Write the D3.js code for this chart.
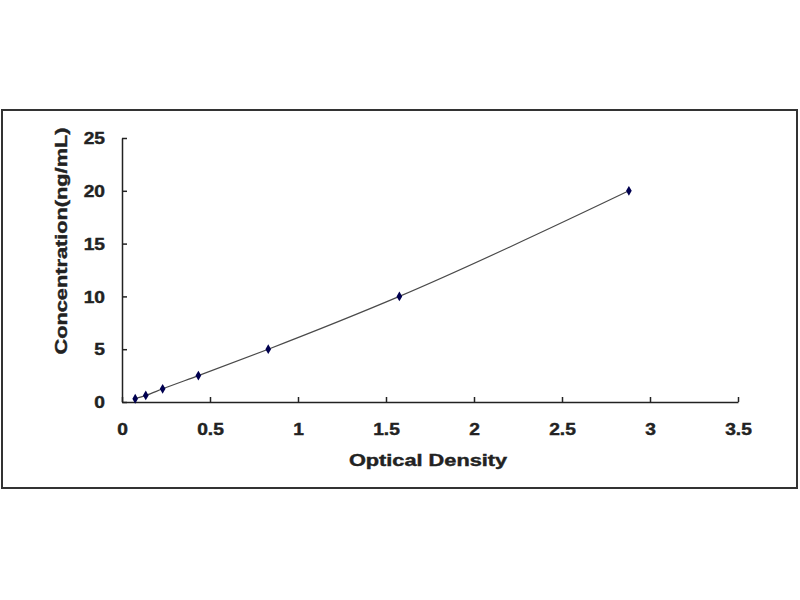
<!DOCTYPE html>
<html><head><meta charset="utf-8">
<script src="https://cdn.jsdelivr.net/npm/d3@7"></script>
<style>body{margin:0;background:#fff;}svg{display:block;}</style>
</head><body>
<svg id="c" width="800" height="600"></svg>
<script>
const od = [0.075, 0.135, 0.231, 0.434, 0.831, 1.576, 2.88];
const conc = [0.312, 0.625, 1.25, 2.5, 5, 10, 20];
const xTicks = [0, 0.5, 1, 1.5, 2, 2.5, 3, 3.5];
const yTicks = [0, 5, 10, 15, 20, 25];
const xTitle = "Optical Density";
const yTitle = "Concentration(ng/mL)";

const svg = d3.select("#c");
svg.append("rect").attr("x", 2).attr("y", 110).attr("width", 795).attr("height", 378)
  .attr("fill", "#fff").attr("stroke", "#333").attr("stroke-width", 2);

const x = d3.scaleLinear().domain([0, 3.5]).range([122, 738]);
const y = d3.scaleLinear().domain([0, 25]).range([402, 138]);
const font = "'Liberation Sans', Arial, sans-serif";

const xa = svg.append("g").attr("transform", "translate(0,402)")
  .call(d3.axisBottom(x).tickValues(xTicks).tickSizeInner(-5).tickSizeOuter(0).tickFormat(d3.format("")));
const ya = svg.append("g").attr("transform", "translate(122,0)")
  .call(d3.axisLeft(y).tickValues(yTicks).tickSizeInner(-5).tickSizeOuter(0).tickFormat(d3.format("")));
[xa, ya].forEach(g => {
  g.select(".domain").attr("stroke", "#222").attr("stroke-width", 1.5);
  g.selectAll(".tick line").attr("stroke", "#222").attr("stroke-width", 1.5);
  g.selectAll(".tick text").attr("fill", "#222").attr("stroke", "#222").attr("stroke-width", 0.4)
    .style("font-family", font).style("font-size", "16px").style("font-weight", "bold");
});
xa.selectAll(".tick text").attr("y", 0).attr("dy", 0)
  .attr("transform", "translate(0,33) scale(1.2,1)");
ya.selectAll(".tick text").attr("x", 0).attr("dy", "0.35em")
  .attr("transform", "translate(-17,0) scale(1.2,1)");

svg.append("text").attr("transform", "translate(428,466) scale(1.36,1)")
  .attr("text-anchor", "middle").style("font-family", font).style("font-size", "16px")
  .style("font-weight", "bold").attr("fill", "#222").attr("stroke", "#222").attr("stroke-width", 0.4)
  .text(xTitle);
svg.append("text").attr("transform", "translate(67,241) rotate(-90) scale(1.36,1)")
  .attr("text-anchor", "middle").style("font-family", font).style("font-size", "16px")
  .style("font-weight", "bold").attr("fill", "#222").attr("stroke", "#222").attr("stroke-width", 0.4)
  .text(yTitle);

const pts = od.map((v, i) => [v, conc[i]]);
const line = d3.line().x(d => x(d[0])).y(d => y(d[1])).curve(d3.curveMonotoneX);
svg.append("path").datum(pts).attr("d", line).attr("fill", "none")
  .attr("stroke", "#4a4a4a").attr("stroke-width", 1.2);
svg.append("g").selectAll("path").data(pts).join("path")
  .attr("transform", d => `translate(${x(d[0])},${y(d[1])})`)
  .attr("d", d3.symbol(d3.symbolDiamond, 28))
  .attr("fill", "#000050");
</script>
</body></html>
